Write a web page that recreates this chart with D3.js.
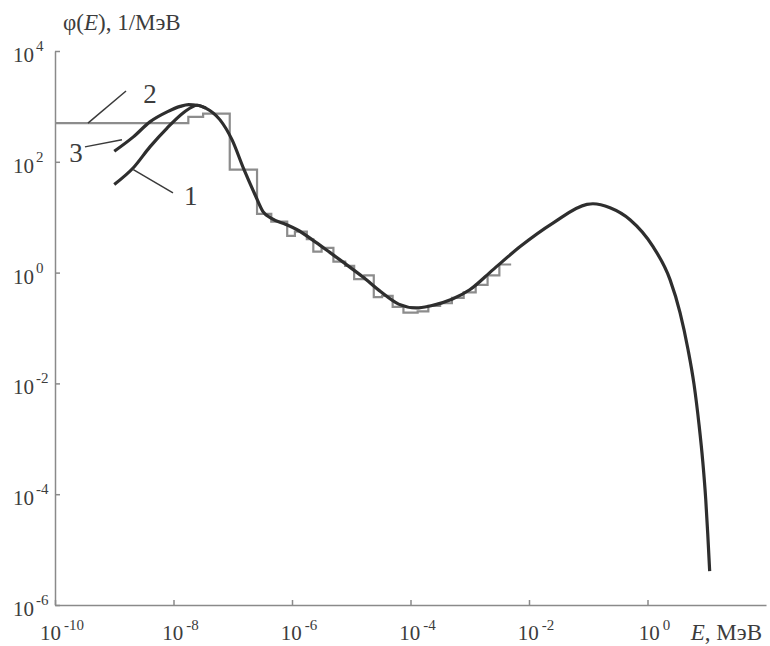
<!DOCTYPE html>
<html>
<head>
<meta charset="utf-8">
<script src="https://cdn.jsdelivr.net/npm/d3@7"></script>
<style>
  body { margin: 0; background: #fff; }
  svg { display: block; }
</style>
</head>
<body>
<div class="content"></div>
<script>
// Chart size and plot box
var width = 770, height = 646;
var plot = {left: 55, right: 766, top: 51, bottom: 605};
var serif = "'Liberation Serif', 'DejaVu Serif', serif";

// Tick exponents
var xTickExps = [-10, -8, -6, -4, -2, 0];
var yTickExps = [-6, -4, -2, 0, 2, 4];

// Curve 1: low-energy branch (E in MeV, phi in 1/MeV)
var curve1E   = [1.0e-9, 2.1e-9, 4.0e-9, 7.8e-9, 1.45e-8, 2.0e-8];
var curve1Phi = [39, 78, 186, 407, 760, 960];

// Curve 3: low-energy branch
var curve3E   = [1.0e-9, 2.1e-9, 4.0e-9, 7.8e-9, 1.3e-8, 1.8e-8];
var curve3Phi = [155, 282, 525, 795, 1000, 1075];

// Shared part of curves 1 and 3 (from ~2.5e-8 MeV)
var commonE = [2.5e-8, 3.5e-8, 6.1e-8, 9.7e-8, 1.55e-7, 2.38e-7, 3.24e-7,
  4.5e-7, 7.9e-7, 1.2e-6, 2.5e-6, 4.4e-6, 7.9e-6, 1.58e-5, 3.16e-5, 6.3e-5,
  1.26e-4, 2.14e-4, 5.0e-4, 1.0e-3, 2.45e-3, 7.1e-3, 2.57e-2, 9.5e-2, 1.2e-1,
  2.33e-1, 5.07e-1, 1.24, 2.4, 3.54, 4.83, 6.1, 7.4, 8.56, 9.61, 10.4, 11.2];
var commonPhi = [1050, 933, 571, 251, 72, 25.4, 12.6,
  9.5, 7.4, 6.0, 3.55, 2.29, 1.45, 0.83, 0.45, 0.27,
  0.23, 0.25, 0.33, 0.49, 1.12, 2.95, 7.9, 17.0, 17.5,
  14.8, 9.0, 2.94, 0.748, 0.19, 0.041, 0.0096, 0.00182, 0.000393, 0.000081, 0.000019, 0.0000041];

// Curve 2: histogram (bin edges in MeV, value per bin in 1/MeV)
var histEdges = [1e-10, 1.78e-8, 3.16e-8, 8.9e-8, 2.57e-7, 4.47e-7, 8.3e-7, 1.12e-6,
  1.78e-6, 2.29e-6, 3.16e-6, 5.0e-6, 7.9e-6, 1.12e-5, 1.66e-5, 2.4e-5, 3.31e-5,
  5.0e-5, 7.6e-5, 1.32e-4, 2.0e-4, 3.16e-4, 5.0e-4, 7.9e-4, 1.26e-3, 2.0e-3,
  3.16e-3, 5.0e-3];
var histPhi = [500, 646, 741, 72, 11.5, 8.3, 4.6, 5.5,
  4.0, 2.4, 2.8, 1.58, 1.32, 0.76, 0.89, 0.36, 0.38,
  0.24, 0.19, 0.2, 0.25, 0.28, 0.35, 0.44, 0.60, 0.89,
  1.4];

// Curve labels and their leader lines [E, phi]
var labelNames = ["2", "3", "1"];
var labelPos = [[3.1e-9, 1150], [2.95e-10, 100], [1.51e-8, 16.8]];
var labelAnchor = ["start", "end", "start"];
var leaderFrom = [[3.6e-10, 500], [3.2e-10, 186], [2.1e-9, 72]];
var leaderTo = [[1.58e-9, 1900], [1.35e-9, 251], [9.8e-9, 27.5]];

var svg = d3.select(".content").append("svg")
    .attr("width", width)
    .attr("height", height);

var x = d3.scaleLog()
  .domain([1e-10, 1e2])
  .range([plot.left, plot.right]);

var y = d3.scaleLog()
  .domain([1e-6, 1e4])
  .range([plot.bottom, plot.top]);

var axisColor = "#8a8a8a";
var textColor = "#3c3c3c";

// X axis, ticks pointing inward
svg.append("g")
  .attr("transform", "translate(0," + plot.bottom + ")")
  .call(d3.axisBottom(x)
    .tickValues(xTickExps.map(function(e) { return Math.pow(10, e); }))
    .tickSize(-5)
    .tickSizeOuter(0)
    .tickFormat(""));

// Y axis
svg.append("g")
  .attr("transform", "translate(" + plot.left + ",0)")
  .call(d3.axisLeft(y)
    .tickValues(yTickExps.map(function(e) { return Math.pow(10, e); }))
    .tickSize(-5)
    .tickSizeOuter(0)
    .tickFormat(""));

svg.selectAll(".domain, .tick line")
  .attr("stroke", axisColor)
  .attr("stroke-width", 1.5);

// x tick labels like 10^-8
var xLabels = svg.selectAll("xLabels")
  .data(xTickExps)
  .enter()
  .append("text")
    .attr("x", function(d) { return x(Math.pow(10, d)) + 7; })
    .attr("y", plot.bottom + 35)
    .attr("text-anchor", "middle")
    .attr("font-family", serif)
    .style("fill", textColor)
    .style("font-size", "21px");
xLabels.append("tspan").text("10");
xLabels.append("tspan")
  .attr("dx", 3)
  .attr("dy", -10)
  .style("font-size", "15px")
  .text(function(d) { return d === 0 ? "0" : "-" + Math.abs(d); });

// y tick labels
var yLabels = svg.selectAll("yLabels")
  .data(yTickExps)
  .enter()
  .append("text")
    .attr("x", 13)
    .attr("y", function(d) { return y(Math.pow(10, d)) + 11; })
    .attr("text-anchor", "start")
    .attr("font-family", serif)
    .style("fill", textColor)
    .style("font-size", "21px");
yLabels.append("tspan").text("10");
yLabels.append("tspan")
  .attr("dx", 2)
  .attr("dy", -11)
  .style("font-size", "15px")
  .text(function(d) { return d < 0 ? "-" + Math.abs(d) : d; });

// Axis titles
var yTitle = svg.append("text")
  .attr("x", plot.left + 8)
  .attr("y", 30)
  .attr("font-family", serif)
  .style("fill", textColor)
  .style("font-size", "23px");
yTitle.append("tspan").text("φ(");
yTitle.append("tspan").style("font-style", "italic").text("E");
yTitle.append("tspan").text("), 1/МэВ");

var xTitle = svg.append("text")
  .attr("x", 762)
  .attr("y", plot.bottom + 35)
  .attr("text-anchor", "end")
  .attr("font-family", serif)
  .style("fill", textColor)
  .style("font-size", "23px");
xTitle.append("tspan").style("font-style", "italic").text("E");
xTitle.append("tspan").text(", МэВ");

// Histogram (curve 2) as a step line
var histPoints = [];
histPhi.forEach(function(v, i) {
  histPoints.push([histEdges[i], v]);
  histPoints.push([histEdges[i + 1], v]);
});
var line = d3.line()
  .x(function(d) { return x(d[0]); })
  .y(function(d) { return y(d[1]); });

svg.append("path")
  .attr("d", line(histPoints))
  .attr("fill", "none")
  .attr("stroke", "#8c8c8c")
  .attr("stroke-width", 2.2);

// Smooth curves 1 and 3
var smooth = d3.line()
  .curve(d3.curveMonotoneX)
  .x(function(d) { return x(d[0]); })
  .y(function(d) { return y(d[1]); });

var curves = [
  d3.zip(curve1E.concat(commonE), curve1Phi.concat(commonPhi)),
  d3.zip(curve3E.concat(commonE.slice(0, 2)), curve3Phi.concat(commonPhi.slice(0, 2)))
];
svg.selectAll("myLines")
  .data(curves)
  .enter()
  .append("path")
    .attr("d", function(d) { return smooth(d); })
    .attr("fill", "none")
    .attr("stroke", "#2e2e2e")
    .attr("stroke-width", 3.2)
    .attr("stroke-linejoin", "round");

// Leader lines and labels
svg.selectAll("leaders")
  .data(leaderFrom)
  .enter()
  .append("line")
    .attr("x1", function(d) { return x(d[0]); })
    .attr("y1", function(d) { return y(d[1]); })
    .attr("x2", function(d, i) { return x(leaderTo[i][0]); })
    .attr("y2", function(d, i) { return y(leaderTo[i][1]); })
    .attr("stroke", "#3a3a3a")
    .attr("stroke-width", 1.5);

svg.selectAll("curveLabels")
  .data(labelNames)
  .enter()
  .append("text")
    .attr("x", function(d, i) { return x(labelPos[i][0]); })
    .attr("y", function(d, i) { return y(labelPos[i][1]); })
    .attr("text-anchor", function(d, i) { return labelAnchor[i]; })
    .attr("font-family", serif)
    .style("fill", textColor)
    .style("font-size", "27px")
    .text(function(d) { return d; });
</script>
</body>
</html>
